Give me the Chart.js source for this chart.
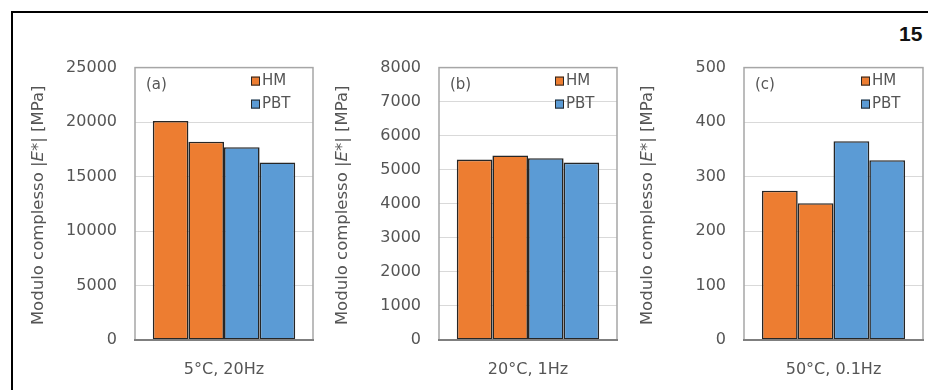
<!DOCTYPE html>
<html>
<head>
<meta charset="utf-8">
<script src="https://cdn.jsdelivr.net/npm/chart.js@4/dist/chart.umd.min.js"></script>
<style>
  html, body { margin: 0; padding: 0; background: #fff; overflow: hidden; }
  body { width: 928px; height: 390px; position: relative; }
  #frame { position: absolute; left: 11px; top: 11px; width: 980px; height: 440px;
           border-left: 2px solid #000; border-top: 2px solid #000; }
  #pageno { position: absolute; left: 899px; top: 22px; font: bold 21px "Liberation Sans", Arial, sans-serif;
            color: #111; line-height: 24px; }
  .panel { position: absolute; top: 40px; height: 350px; }
</style>
</head>
<body>
<div id="frame"></div>
<div id="pageno">15</div>
<div class="panel" id="pa" style="left:25px;width:291px"><canvas id="ca"></canvas></div>
<div class="panel" id="pb" style="left:329px;width:291px"><canvas id="cb"></canvas></div>
<div class="panel" id="pc" style="left:634px;width:292px"><canvas id="cc"></canvas></div>
<script>
// Test conditions (one per panel)
const conditionsA = ['5°C, 20Hz'];
const conditionsB = ['20°C, 1Hz'];
const conditionsC = ['50°C, 0.1Hz'];

// Complex modulus |E*| [MPa], two specimens per material
const hmA  = [20100, 18200];
const pbtA = [17700, 16300];
const hmB  = [5300, 5420];
const pbtB = [5340, 5210];
const hmC  = [274, 251];
const pbtC = [365, 330];

// Y axis limits / steps
const yMaxA = 25000, yStepA = 5000;
const yMaxB = 8000,  yStepB = 1000;
const yMaxC = 500,   yStepC = 100;

const seriesNames = ['HM', 'PBT'];
const panelTags = ['(a)', '(b)', '(c)'];

const FONT = "'DejaVu Sans', Verdana, sans-serif";
const TEXT = '#555555';
const ORANGE = '#ED7D31';
const BLUE = '#5B9BD5';
const EDGE = '#262626';

function makeDatasets(hm, pbt) {
  const ds = [];
  hm.forEach(v => ds.push({ label: seriesNames[0], data: [v], backgroundColor: ORANGE }));
  pbt.forEach(v => ds.push({ label: seriesNames[1], data: [v], backgroundColor: BLUE }));
  ds.forEach(d => {
    d.borderColor = EDGE;
    d.borderWidth = 1.6;
    d.borderSkipped = false;
    d.categoryPercentage = 0.8;
    d.barPercentage = 1.0;
  });
  return ds;
}

// Plot frame: light box round the plot area, darker baseline
const plotFrame = {
  id: 'plotFrame',
  beforeDatasetsDraw(chart) {
    const { ctx, chartArea: a } = chart;
    ctx.save();
    ctx.strokeStyle = '#a6a6a6';
    ctx.lineWidth = 1.5;
    ctx.strokeRect(a.left, a.top, a.right - a.left, a.bottom - a.top);
    ctx.restore();
  },
  afterDatasetsDraw(chart) {
    const { ctx, chartArea: a } = chart;
    ctx.save();
    ctx.strokeStyle = '#7f7f7f';
    ctx.lineWidth = 2;
    ctx.beginPath();
    ctx.moveTo(a.left - 1, a.bottom);
    ctx.lineTo(a.right + 1, a.bottom);
    ctx.stroke();
    ctx.restore();
  }
};

// Legend drawn inside the top-right corner of the plot area, one entry per material
const innerLegend = {
  id: 'innerLegend',
  afterDraw(chart) {
    const { ctx, chartArea: a } = chart;
    const seen = [];
    chart.data.datasets.forEach(d => {
      if (!seen.find(s => s.label === d.label)) seen.push(d);
    });
    ctx.save();
    ctx.font = '15px ' + FONT;
    ctx.textBaseline = 'middle';
    ctx.textAlign = 'left';
    seen.forEach((d, i) => {
      const cy = a.top + 13.5 + i * 23;
      const x = a.right - 62;
      ctx.fillStyle = d.backgroundColor;
      ctx.fillRect(x, cy - 4.5, 9, 9);
      ctx.strokeStyle = EDGE;
      ctx.lineWidth = 1;
      ctx.strokeRect(x + 0.5, cy - 4, 8, 8);
      ctx.fillStyle = TEXT;
      ctx.fillText(d.label, x + 11, cy + 0.5);
    });
    ctx.restore();
  }
};

// Panel tag "(a)" etc. and the rotated y title with italic E
function panelDecor(tag) {
  return {
    id: 'panelDecor',
    afterDraw(chart) {
      const { ctx, chartArea: a } = chart;
      ctx.save();
      ctx.fillStyle = TEXT;
      ctx.textBaseline = 'middle';
      ctx.textAlign = 'left';
      ctx.font = '15px ' + FONT;
      ctx.fillText(tag, a.left + 11, a.top + 17.5);

      const segs = [
        ['Modulo complesso |', 'normal'],
        ['E', 'italic'],
        ['*| [MPa]', 'normal']
      ];
      const size = 16.5;
      let total = 0;
      segs.forEach(s => { ctx.font = s[1] + ' ' + size + 'px ' + FONT; total += ctx.measureText(s[0]).width; });
      ctx.translate(a.left - 96.5, (a.top + a.bottom) / 2 + 1.5);
      ctx.rotate(-Math.PI / 2);
      let x = -total / 2;
      segs.forEach(s => {
        ctx.font = s[1] + ' ' + size + 'px ' + FONT;
        ctx.fillText(s[0], x, 0);
        x += ctx.measureText(s[0]).width;
      });
      ctx.restore();
    }
  };
}

function buildPanel(canvasId, labels, hm, pbt, yMax, yStep, tag) {
  return new Chart(document.getElementById(canvasId), {
    type: 'bar',
    data: { labels: labels, datasets: makeDatasets(hm, pbt) },
    options: {
      responsive: true,
      maintainAspectRatio: false,
      animation: false,
      events: [],
      layout: { padding: { top: 21.5, right: 3, left: 0, bottom: 0 } },
      plugins: { legend: { display: false }, tooltip: { enabled: false }, title: { display: false } },
      scales: {
        x: {
          grid: { display: false },
          border: { display: false },
          ticks: { color: TEXT, font: { family: FONT, size: 16 }, padding: 12 },
          afterFit(s) { s.height = 50; }
        },
        y: {
          min: 0, max: yMax,
          ticks: { stepSize: yStep, color: TEXT, font: { family: FONT, size: 16 }, padding: 18,
                   callback: v => String(v) },
          grid: { color: '#d9d9d9', lineWidth: 1, drawTicks: false },
          border: { display: false },
          afterFit(s) { s.width = 110; }
        }
      }
    },
    plugins: [plotFrame, innerLegend, panelDecor(tag)]
  });
}

buildPanel('ca', conditionsA, hmA, pbtA, yMaxA, yStepA, panelTags[0]);
buildPanel('cb', conditionsB, hmB, pbtB, yMaxB, yStepB, panelTags[1]);
buildPanel('cc', conditionsC, hmC, pbtC, yMaxC, yStepC, panelTags[2]);
</script>
</body>
</html>
